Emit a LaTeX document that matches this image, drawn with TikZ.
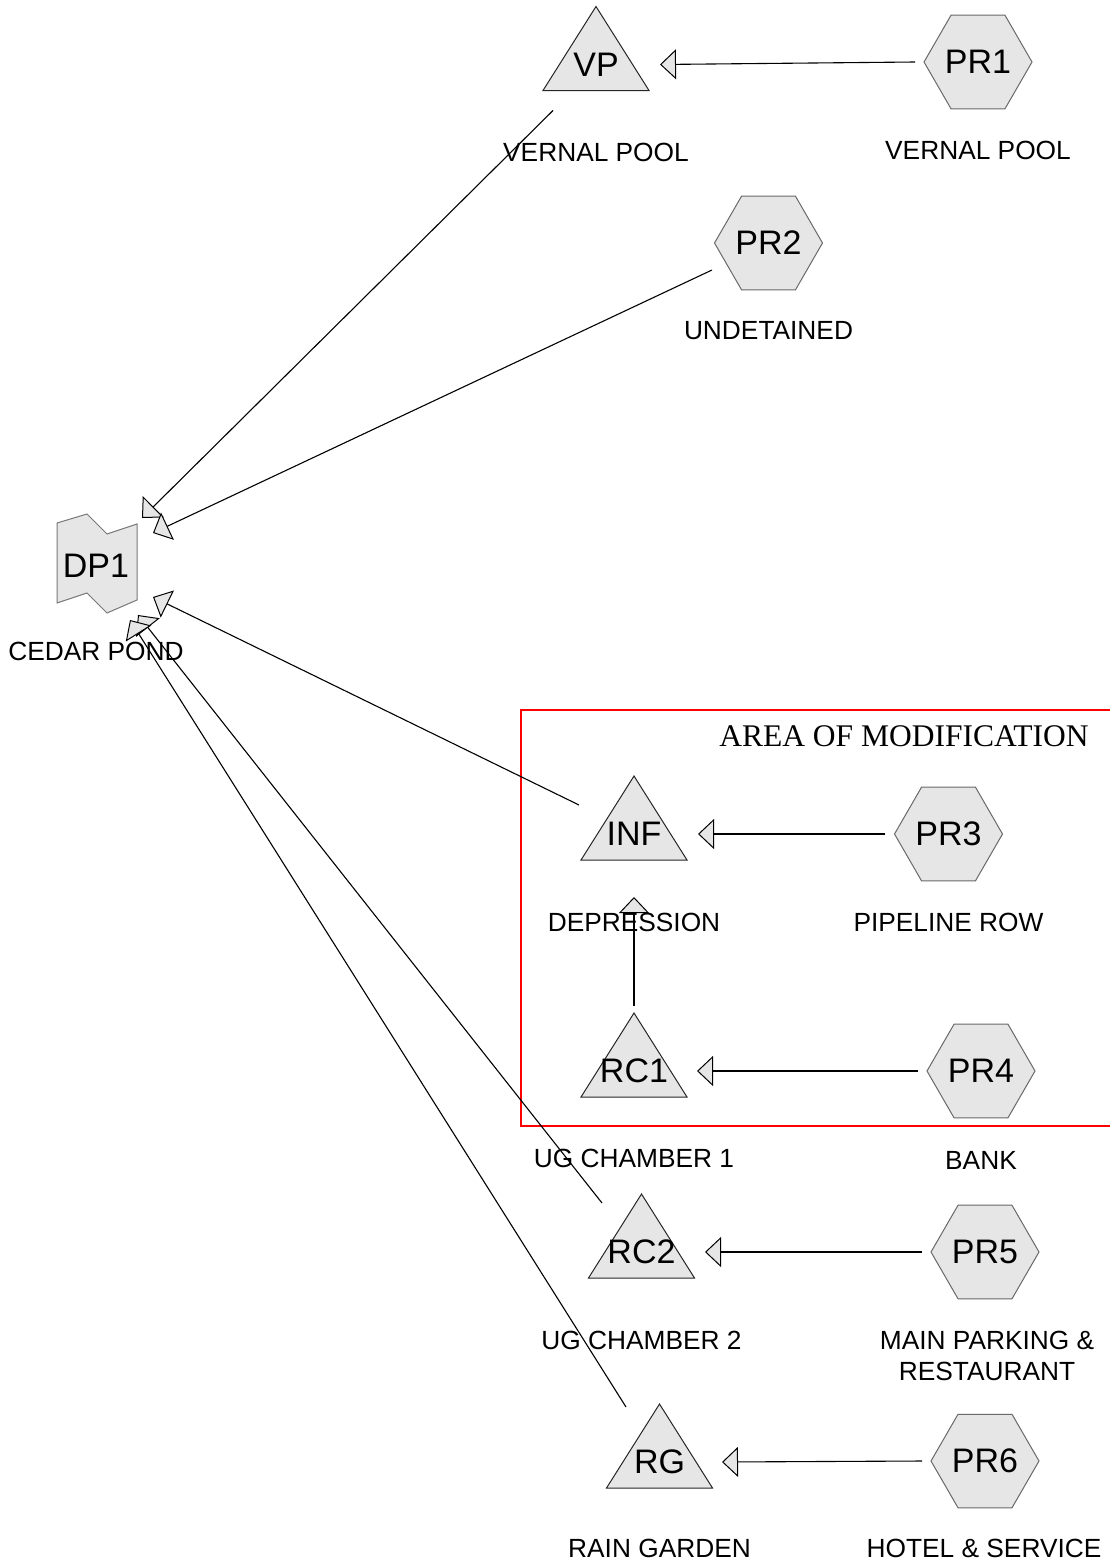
\documentclass[tikz,border=0pt]{standalone}
\usepackage{fontspec}
\setmainfont{Liberation Sans}
\newfontfamily\serifA{Liberation Serif}
\usetikzlibrary{arrows.meta,shapes.geometric,calc}
\definecolor{nodefill}{RGB}{230,230,230}
\definecolor{hexline}{RGB}{105,105,105}
\definecolor{dpline}{RGB}{120,120,120}
\newcommand\mytri[4]{%
  \draw[trishape] (#2,#3-58) -- (#2+53,#3+26) -- (#2-53,#3+26) -- cycle;
  \node[tritext] (#1) at (#2,#3) {#4};
}
\begin{document}
\begin{tikzpicture}[x=1pt,y=-1pt,
  hexnode/.style={regular polygon, regular polygon sides=6, minimum size=106pt, inner sep=0pt, draw=hexline, fill=nodefill, line width=1pt, font=\fontsize{34}{36}\selectfont},
  tritext/.style={font=\fontsize{34}{36}\selectfont, inner sep=0pt},
  trishape/.style={draw=black!85, fill=nodefill, line width=1pt},
  lbl/.style={font=\fontsize{26.3}{31}\selectfont, inner sep=0pt, align=center},
  flow/.style={line width=1.1pt, -{Triangle[length=16pt,width=30pt,fill=nodefill,line width=1pt]}},
]
\useasboundingbox (0,0) rectangle (1109,1563);

% area of modification
\draw[red, line width=2.5pt] (521,710) rectangle (1111,1126);
\node[font=\serifA\fontsize{31.5}{34}\selectfont, inner sep=0pt] (aom) at (904,736) {AREA OF MODIFICATION};

% DP1
\draw[draw=dpline, fill=nodefill, line width=1pt] (57,523) -- (87,514) -- (107,534) -- (137,524) -- (137,600) -- (107,613) -- (87,593) -- (57,603) -- cycle;
\node[tritext] (DP1) at (96,566) {DP1};
\node[lbl] (lDP1) at (96,651) {CEDAR POND};

% triangles
\mytri{VP}{596}{64.5}{VP}
\mytri{INF}{634}{834}{INF}
\mytri{RC1}{634}{1071}{RC1}
\mytri{RC2}{641.5}{1252}{RC2}
\mytri{RG}{659.5}{1462}{RG}

% hexagons
\node[hexnode] (PR1) at (978,62) {PR1};
\node[hexnode] (PR2) at (768.5,243) {PR2};
\node[hexnode] (PR3) at (948.5,834) {PR3};
\node[hexnode] (PR4) at (981,1071) {PR4};
\node[hexnode] (PR5) at (985,1252) {PR5};
\node[hexnode] (PR6) at (985,1461) {PR6};

% labels
\node[lbl] (lVP) at (596,152) {VERNAL POOL};
\node[lbl] (lPR1) at (978,150) {VERNAL POOL};
\node[lbl] (lPR2) at (768.5,331) {UNDETAINED};
\node[lbl] (lINF) at (634,922) {DEPRESSION};
\node[lbl] (lPR3) at (948.5,922) {PIPELINE ROW};
\node[lbl] (lRC1) at (634,1158) {UG CHAMBER 1};
\node[lbl] (lPR4) at (981,1160) {BANK};
\node[lbl] (lRC2) at (641.5,1340) {UG CHAMBER 2};
\node[lbl] (lPR5) at (987,1355.5) {MAIN PARKING \&\\RESTAURANT};
\node[lbl] (lRG) at (659.5,1548) {RAIN GARDEN};
\node[lbl] (lPR6) at (984,1548) {HOTEL \& SERVICE};

% connectors
\draw[flow] ($(PR1)+(-63,0)$) -- ($(VP)+(64,0)$);
\draw[flow] ($(VP)+(-43,46)$) -- ($(DP1)+(46,-48)$);
\draw[flow] ($(PR2)+(-56.5,27)$) -- ($(DP1)+(57,-33)$);
\draw[flow] ($(INF)+(-55,-29)$) -- ($(DP1)+(57,31)$);
\draw[flow] ($(PR3)+(-63.5,0)$) -- ($(INF)+(64,0)$);
\draw[flow] ($(RC1)+(0,-65)$) -- ($(INF)+(0,63)$);
\draw[flow] ($(PR4)+(-63,0)$) -- ($(RC1)+(63,0)$);
\draw[flow] ($(RC2)+(-39.5,-49)$) -- ($(DP1)+(42,49)$);
\draw[flow] ($(PR5)+(-63,0)$) -- ($(RC2)+(63.5,0)$);
\draw[flow] ($(RG)+(-33.5,-55)$) -- ($(DP1)+(34,54)$);
\draw[flow] ($(PR6)+(-63,0)$) -- ($(RG)+(62.5,0)$);
\end{tikzpicture}
\end{document}
